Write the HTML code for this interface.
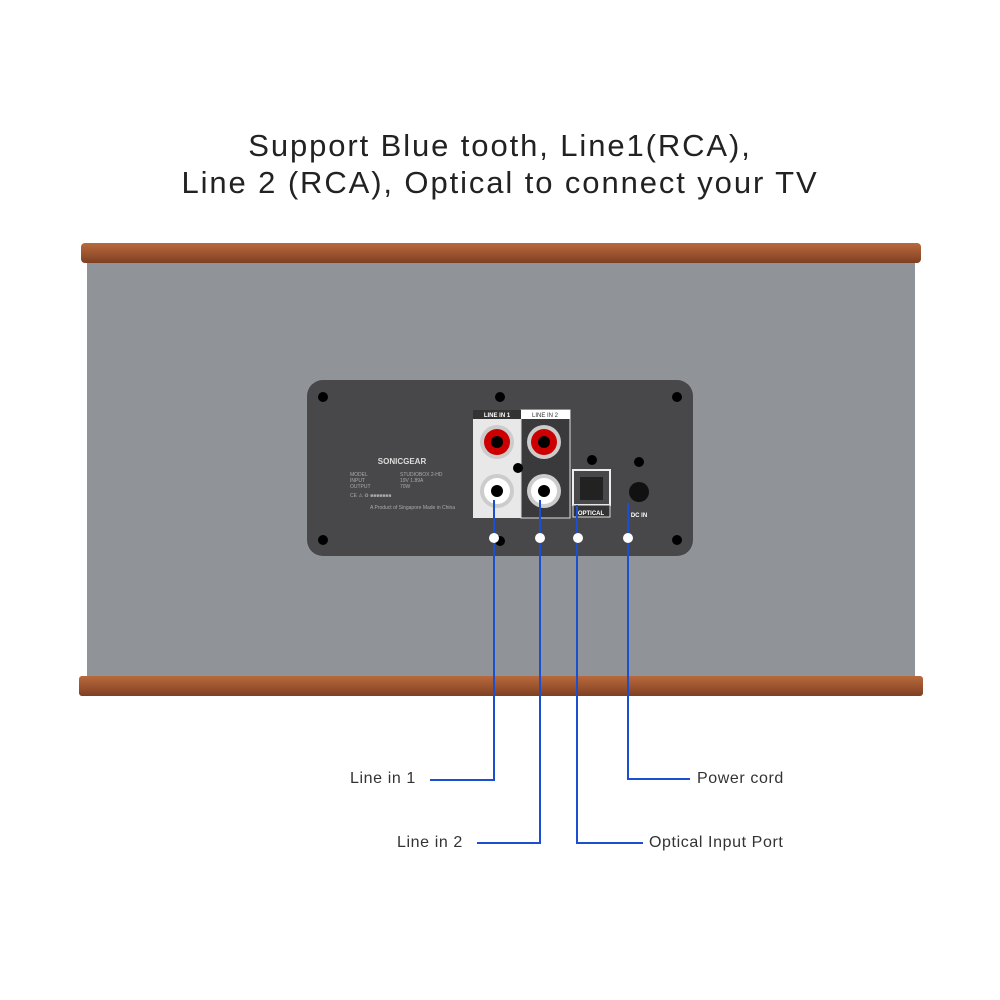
<!DOCTYPE html>
<html><head><style>
body{margin:0;width:1000px;height:1000px;background:#fff;position:relative;overflow:hidden;font-family:"Liberation Sans",sans-serif}
.t{position:absolute;left:0;width:1000px;text-align:center;font-size:31px;color:#222;font-weight:300;letter-spacing:1.9px}
.lbl{position:absolute;font-size:16px;color:#333;letter-spacing:0.6px}
</style></head><body>
<div class="t" style="top:128px">Support Blue tooth, Line1(RCA),</div>
<div class="t" style="top:165px">Line 2 (RCA), Optical to connect your TV</div>
<svg width="1000" height="1000" style="position:absolute;left:0;top:0" xmlns="http://www.w3.org/2000/svg">
<defs><linearGradient id="w" x1="0" y1="0" x2="0" y2="1"><stop offset="0" stop-color="#b86a3c"/><stop offset=".5" stop-color="#9e5530"/><stop offset="1" stop-color="#7d3f22"/></linearGradient></defs>
<rect x="87" y="260" width="828" height="418" fill="#909498"/>
<rect x="81" y="243" width="840" height="20" rx="4" fill="url(#w)"/>
<rect x="79" y="676" width="844" height="20" rx="3" fill="url(#w)"/>
<rect x="307" y="380" width="386" height="176" rx="16" fill="#48484a"/>
<g fill="#000"><circle cx="323" cy="397" r="5"/><circle cx="500" cy="397" r="5"/><circle cx="677" cy="397" r="5"/><circle cx="323" cy="540" r="5"/><circle cx="677" cy="540" r="5"/><circle cx="500" cy="541" r="5"/><circle cx="592" cy="460" r="5"/><circle cx="639" cy="462" r="5"/></g>
<rect x="473" y="410" width="48" height="108" fill="#e8e8e8"/>
<rect x="521" y="410" width="49" height="108" fill="#3a3a3c" stroke="#ddd"/>
<rect x="473" y="410" width="48" height="9" fill="#333"/>
<rect x="521" y="410" width="49" height="9" fill="#fff"/>
<text x="497" y="417" font-size="6" fill="#fff" text-anchor="middle" font-weight="bold">LINE IN 1</text>
<text x="545" y="417" font-size="6" fill="#333" text-anchor="middle">LINE IN 2</text>
<g><circle cx="497" cy="442" r="17" fill="#ccc"/><circle cx="497" cy="442" r="13" fill="#c00"/><circle cx="497" cy="442" r="6" fill="#000"/>
<circle cx="544" cy="442" r="17" fill="#ccc"/><circle cx="544" cy="442" r="13" fill="#c00"/><circle cx="544" cy="442" r="6" fill="#000"/>
<circle cx="497" cy="491" r="17" fill="#ccc"/><circle cx="497" cy="491" r="13" fill="#fff"/><circle cx="497" cy="491" r="6" fill="#000"/>
<circle cx="544" cy="491" r="17" fill="#ccc"/><circle cx="544" cy="491" r="13" fill="#fff"/><circle cx="544" cy="491" r="6" fill="#000"/>
<circle cx="518" cy="468" r="5" fill="#000"/></g>
<rect x="573" y="470" width="37" height="35" fill="none" stroke="#eee" stroke-width="2"/>
<rect x="573" y="505" width="37" height="12" fill="#333" stroke="#ddd"/>
<rect x="580" y="477" width="23" height="23" fill="#222"/>
<text x="591" y="515" font-size="6" fill="#fff" text-anchor="middle" font-weight="bold">OPTICAL</text>
<circle cx="639" cy="492" r="10" fill="#111"/>
<text x="639" y="517" font-size="6" fill="#fff" text-anchor="middle" font-weight="bold">DC IN</text>
<text x="402" y="464" font-size="8" fill="#ddd" text-anchor="middle" font-weight="bold">SONICGEAR</text>
<g font-size="5" fill="#aaa"><text x="350" y="476">MODEL</text><text x="400" y="476">STUDIOBOX 2-HD</text><text x="350" y="482">INPUT</text><text x="400" y="482">19V 1.89A</text><text x="350" y="488">OUTPUT</text><text x="400" y="488">70W</text><text x="350" y="497">CE ⚠ ♻ ■■■■■■■</text><text x="370" y="509">A Product of Singapore  Made in China</text></g>
<g stroke="#1a4fd0" stroke-width="2" fill="none">
<polyline points="494,500 494,780 430,780"/>
<polyline points="540,500 540,843 477,843"/>
<polyline points="577,505 577,843 643,843"/>
<polyline points="628,503 628,779 690,779"/>
</g>
<g fill="#fff"><circle cx="494" cy="538" r="5"/><circle cx="540" cy="538" r="5"/><circle cx="578" cy="538" r="5"/><circle cx="628" cy="538" r="5"/></g>
</svg>
<div class="lbl" style="left:350px;top:770px">Line in 1</div>
<div class="lbl" style="left:397px;top:834px">Line in 2</div>
<div class="lbl" style="left:649px;top:834px">Optical Input Port</div>
<div class="lbl" style="left:697px;top:770px">Power cord</div>
</body></html>
